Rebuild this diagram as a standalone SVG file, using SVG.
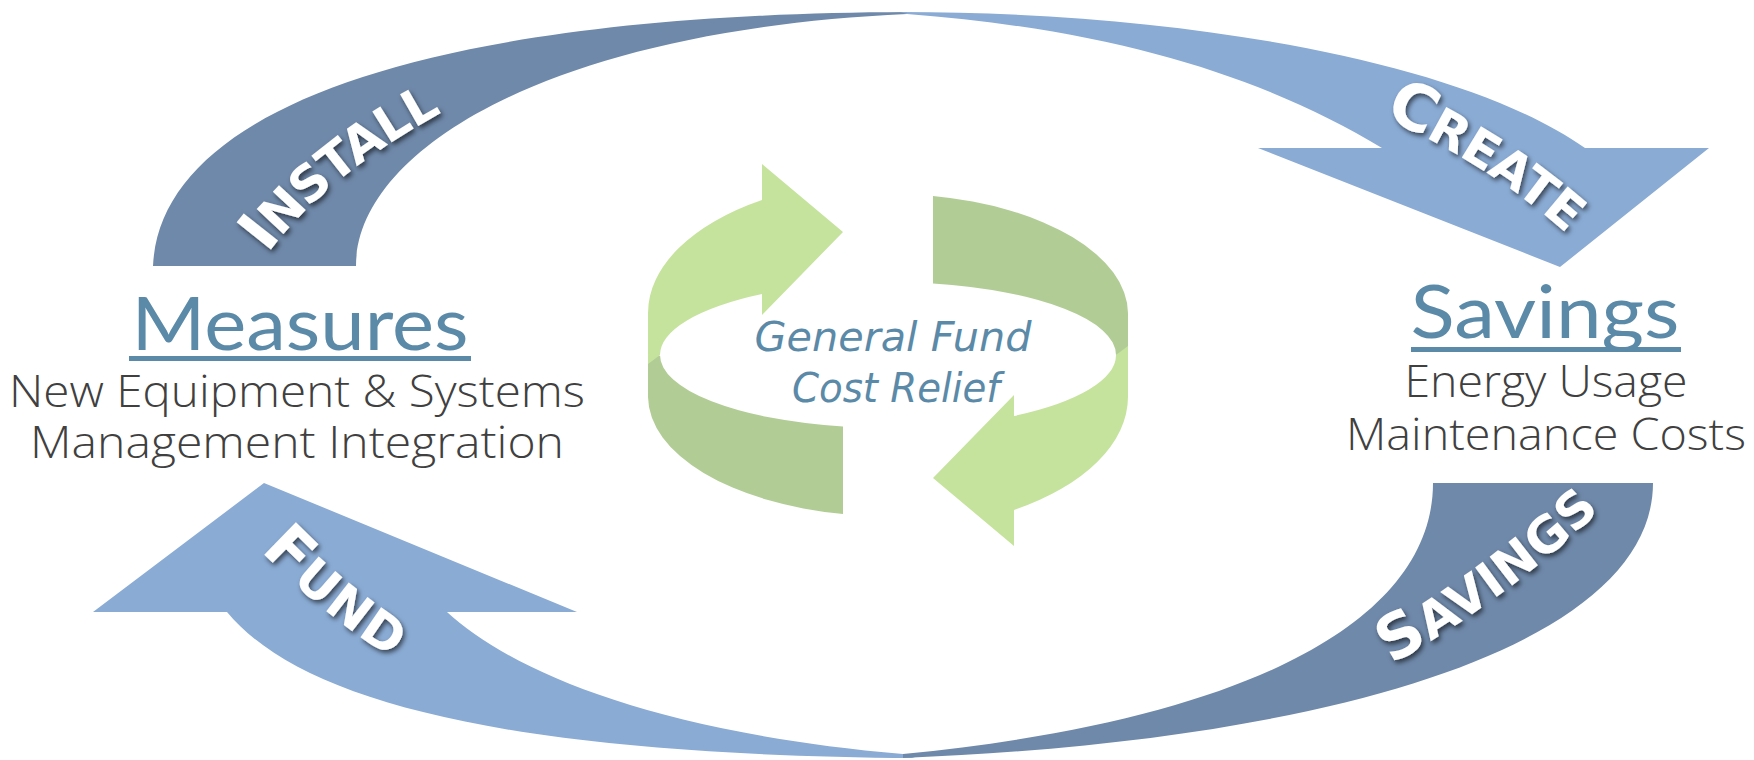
<svg xmlns="http://www.w3.org/2000/svg" width="1754" height="760" viewBox="0 0 1754 760">
<style>
.dark{fill:#6f89aa}
.light{fill:#8aabd4}
.gl{fill:#c5e39d}
.gd{fill:#b1cd95}
.label{font-family:"DejaVu Sans",sans-serif;font-weight:bold;fill:#ffffff;filter:url(#sh)}
.title{font-family:Lato,"Liberation Sans",sans-serif;fill:#5b8aa8;font-size:74px}
.sub{font-family:"Open Sans","Liberation Sans",sans-serif;font-weight:300;fill:#404040;font-size:44px}
.center{font-family:"DejaVu Sans",sans-serif;font-style:italic;fill:#5b8aa8;font-size:41px}
</style>
<defs>
<filter id="sh" x="-30%" y="-30%" width="160%" height="160%">
<feDropShadow dx="2" dy="3" stdDeviation="2.5" flood-color="#000" flood-opacity="0.6"/>
</filter>
<path id="pInstall" d="M222,292 C272,200 352,135 485,70"/>
<path id="pCreate" d="M1335,78 C1428,113 1530,165 1622,262"/>
<path id="pFund" d="M236,498 C288,556 348,616 448,671"/>
<path id="pSavings" d="M1344,670 C1426,627 1536,557 1618,465"/>
</defs>
<rect width="1754" height="760" fill="#ffffff"/>

<g id="cycle">
<g id="greenL">
<path class="gl" d="M762,164 L843,232 L762,315 L762,294 A228,73 0 0 0 660,355 L648,370 L648,313 A240,133 0 0 1 762,200 Z"/>
<path class="gd" d="M660,355 A228,73 0 0 0 843,426.6 L843,514 A240,120 0 0 1 648,397 L648,364 Z"/>
</g>
<use href="#greenL" transform="rotate(180 888 355)"/>
<text class="center" x="893" y="351" text-anchor="middle" textLength="277" lengthAdjust="spacingAndGlyphs">General Fund</text>
<text class="center" x="896" y="402" text-anchor="middle" textLength="208" lengthAdjust="spacingAndGlyphs">Cost Relief</text>
</g>

<g id="connectors">
<g id="install">
<path class="dark" d="M153,266 C160,110 420,14 907,12 L907,14 C550,30 356,150 356,266 Z"/>
<text class="label"><textPath href="#pInstall" startOffset="50%" text-anchor="middle"><tspan dy="18" font-size="60">I</tspan><tspan font-size="50">NSTALL</tspan></textPath></text>
</g>
<g id="create">
<path class="light" d="M900,12 C1180,12 1460,60 1585,148 L1709,148 L1560,267 L1258,148 L1382,148 C1270,80 1120,30 907,14 Z"/>
<text class="label"><textPath href="#pCreate" startOffset="50%" text-anchor="middle"><tspan dy="18" font-size="64">C</tspan><tspan font-size="50">REATE</tspan></textPath></text>
</g>
<g id="fund">
<path class="light" d="M264,483 L577,612 L447,612 C510,670 650,732 903,754 L915,758 C500,755 300,700 227,612 L93,612 Z"/>
<text class="label"><textPath href="#pFund" startOffset="50%" text-anchor="middle"><tspan dy="18" font-size="62">F</tspan><tspan font-size="50">UND</tspan></textPath></text>
</g>
<g id="savings-arrow">
<path class="dark" d="M1433,483 L1653,483 C1653,640 1350,740 903,758 L903,754 C1250,720 1433,620 1433,483 Z"/>
<text class="label"><textPath href="#pSavings" startOffset="50%" text-anchor="middle"><tspan dy="18" font-size="62">S</tspan><tspan font-size="50">AVINGS</tspan></textPath></text>
</g>
</g>

<g id="measures">
<text class="title" x="300" y="350" text-anchor="middle" textLength="337" lengthAdjust="spacingAndGlyphs">Measures</text>
<rect x="129" y="356" width="342" height="5" fill="#5b8aa8"/>
<text class="sub" x="297" y="407" text-anchor="middle" textLength="576" lengthAdjust="spacingAndGlyphs">New Equipment &amp; Systems</text>
<text class="sub" x="297" y="458" text-anchor="middle" textLength="534" lengthAdjust="spacingAndGlyphs">Management Integration</text>
</g>

<g id="savings">
<text class="title" x="1545" y="338" text-anchor="middle" textLength="269" lengthAdjust="spacingAndGlyphs">Savings</text>
<rect x="1411" y="347" width="270" height="5" fill="#5b8aa8"/>
<text class="sub" x="1546" y="397" text-anchor="middle" textLength="283" lengthAdjust="spacingAndGlyphs">Energy Usage</text>
<text class="sub" x="1546" y="450" text-anchor="middle" textLength="400" lengthAdjust="spacingAndGlyphs">Maintenance Costs</text>
</g>
</svg>
